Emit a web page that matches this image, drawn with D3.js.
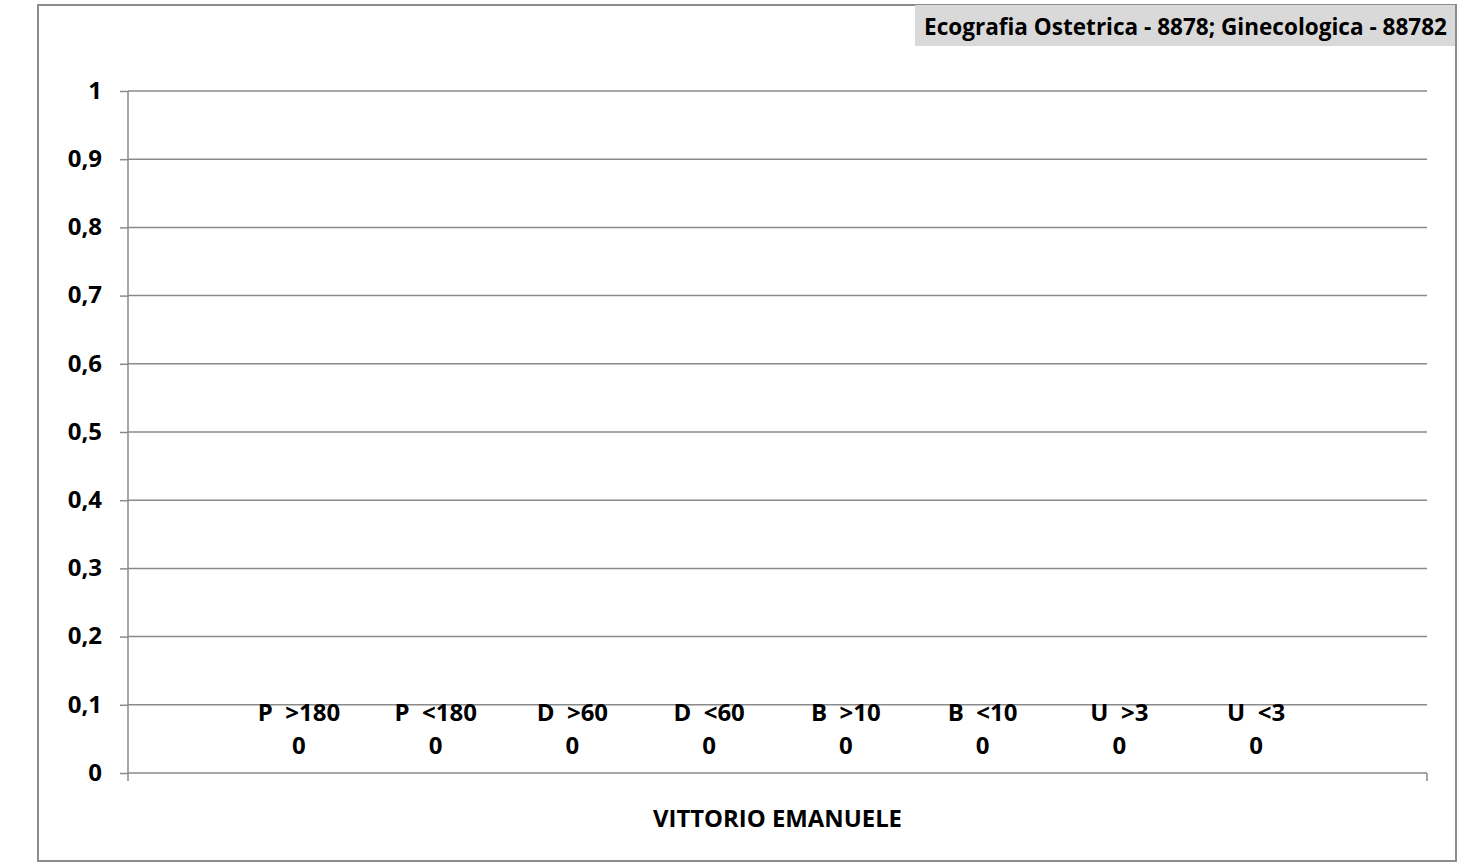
<!DOCTYPE html>
<html>
<head>
<meta charset="utf-8">
<script src="https://cdn.jsdelivr.net/npm/d3@7"></script>
<style>
  html, body { margin: 0; padding: 0; background: #fff; }
  svg { display: block; }
  text { font-family: "Open Sans", Lato, sans-serif; font-weight: bold; fill: #000; }
</style>
</head>
<body>
<svg id="chart" width="1482" height="862"></svg>
<script>
// ---- data ----
const chartTitle = "Ecografia Ostetrica - 8878; Ginecologica - 88782";
const categoryName = "VITTORIO EMANUELE";
const seriesNames = ["P  >180", "P  <180", "D  >60", "D  <60", "B  >10", "B  <10", "U  >3", "U  <3"];
const seriesValues = [0, 0, 0, 0, 0, 0, 0, 0];
const yTicks = [0, 0.1, 0.2, 0.3, 0.4, 0.5, 0.6, 0.7, 0.8, 0.9, 1];

// ---- layout ----
const plot = { left: 128, right: 1427, top: 91, bottom: 773 };
const gridColor = "#8a8a8a";
const font = "'Open Sans', Lato, sans-serif";
const fs = 24;

const svg = d3.select("#chart");

// outer frame
svg.append("rect")
  .attr("x", 38).attr("y", 5).attr("width", 1418).attr("height", 856)
  .attr("fill", "#fff").attr("stroke", "#8c8c8c").attr("stroke-width", 2);

const y = d3.scaleLinear().domain([0, 1]).range([plot.bottom, plot.top]);
const x = d3.scaleBand().domain(seriesNames)
  .range([plot.left, plot.right]).paddingInner(0).paddingOuter(0.75);

// gridlines
svg.append("g").selectAll("line").data(yTicks.filter(d => d > 0)).join("line")
  .attr("x1", plot.left).attr("x2", plot.right)
  .attr("y1", d => y(d)).attr("y2", d => y(d))
  .attr("stroke", gridColor).attr("stroke-width", 1.5);

// y axis
const yAxis = d3.axisLeft(y).tickValues(yTicks).tickSize(8).tickPadding(18)
  .tickFormat(d => d3.format("~g")(d).replace(".", ","));
const gy = svg.append("g").attr("transform", `translate(${plot.left},0)`).call(yAxis);
gy.select(".domain").remove();
gy.selectAll(".tick line").attr("stroke", gridColor).attr("stroke-width", 1.5);
gy.selectAll(".tick text").attr("font-size", fs).attr("dy", "0.3em")
  .style("font-family", font).style("font-weight", "bold").attr("fill", "#000");
svg.append("line").attr("x1", plot.left).attr("x2", plot.left)
  .attr("y1", plot.top).attr("y2", plot.bottom + 8)
  .attr("stroke", gridColor).attr("stroke-width", 1.5);

// x axis
svg.append("line").attr("x1", plot.left).attr("x2", plot.right)
  .attr("y1", plot.bottom).attr("y2", plot.bottom)
  .attr("stroke", gridColor).attr("stroke-width", 1.5);
svg.append("line").attr("x1", plot.right).attr("x2", plot.right)
  .attr("y1", plot.bottom).attr("y2", plot.bottom + 8)
  .attr("stroke", gridColor).attr("stroke-width", 1.5);

// bars (all zero height)
svg.append("g").selectAll("rect").data(seriesNames).join("rect")
  .attr("x", d => x(d)).attr("width", x.bandwidth())
  .attr("y", (d, i) => y(seriesValues[i]))
  .attr("height", (d, i) => y(0) - y(seriesValues[i]))
  .attr("fill", "#4f81bd");

// data labels
const lbl = svg.append("g").selectAll("g").data(seriesNames).join("g")
  .attr("transform", (d, i) => `translate(${x(d) + x.bandwidth() / 2},${y(seriesValues[i])})`);
lbl.append("text").attr("text-anchor", "middle").attr("y", -52)
  .attr("font-size", fs).style("white-space", "pre")
  .text(d => d);
lbl.append("text").attr("text-anchor", "middle").attr("y", -19)
  .attr("font-size", fs)
  .text((d, i) => seriesValues[i]);

// x axis title
svg.append("text").attr("x", (653 + 902) / 2).attr("y", 827)
  .attr("text-anchor", "middle").attr("font-size", fs)
  .attr("textLength", 249).attr("lengthAdjust", "spacingAndGlyphs")
  .text(categoryName);

// chart title box
svg.append("rect").attr("x", 915).attr("y", 5).attr("width", 540).attr("height", 41)
  .attr("fill", "#d9d9d9");
svg.append("text").attr("x", 924).attr("y", 35)
  .attr("font-size", fs)
  .attr("textLength", 523).attr("lengthAdjust", "spacingAndGlyphs")
  .text(chartTitle);
</script>
</body>
</html>
